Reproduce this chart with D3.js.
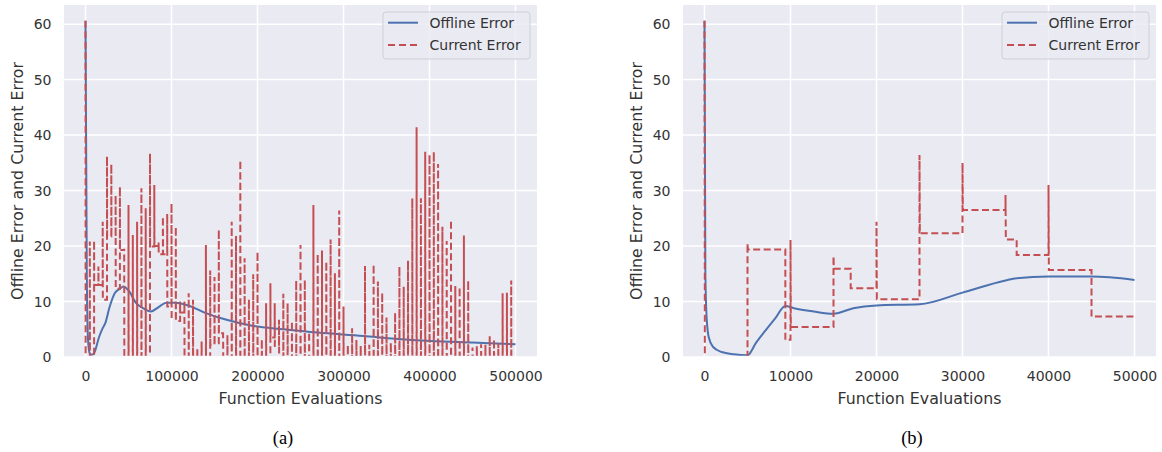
<!DOCTYPE html>
<html>
<head>
<meta charset="utf-8">
<script src="https://cdn.jsdelivr.net/npm/d3@7"></script>
<style>
  html, body { margin: 0; padding: 0; background: #fff; }
  svg { display: block; font-family: "DejaVu Sans", sans-serif; }
</style>
</head>
<body>
<div id="chart"></div>
<script>
// 数据 - 估计值

// (a) 每个环境的评估次数（100 个环境，共 500000 次）
const envLength = 5000;

// (a) Current Error：每个环境变化时的峰值
const peakA = [
  60.6, 20.8, 21.0, 16.3, 24.4, 36.2, 34.8, 29.2, 30.7, 19.5,
  27.4, 22.0, 24.4, 30.4, 26.8, 36.7, 31.0, 20.7, 25.3, 25.8,
  27.7, 23.5, 10.0, 10.0, 11.5, 10.3, 1.6, 2.8, 20.2, 15.6,
  14.4, 23.0, 4.0, 4.0, 24.4, 21.8, 35.5, 17.8, 10.4, 14.9,
  19.0, 3.2, 9.7, 13.3, 9.7, 6.7, 11.4, 9.7, 6.4, 13.8,
  20.2, 13.9, 4.5, 27.4, 18.6, 19.2, 17.2, 21.2, 15.1, 26.4,
  9.1, 2.2, 5.2, 3.1, 2.0, 16.4, 2.2, 16.7, 13.6, 11.6,
  7.1, 2.6, 8.0, 16.3, 12.7, 17.4, 28.6, 41.4, 28.6, 37.0,
  36.5, 37.0, 34.8, 23.5, 20.9, 24.7, 12.8, 12.6, 21.9, 13.8,
  1.7, 2.0, 2.3, 2.2, 3.8, 3.2, 2.5, 11.5, 11.6, 13.8
];

// (a) Current Error：每个环境结束时的值
const lowA = [
  0, 0, 13, 13, 10.3, 21.7, 22, 12.3, 19.3, 0,
  0, 0, 0, 0, 0, 19.9, 20, 18.5, 18.5, 9.1,
  7, 6.5, 8, 0, 0, 0, 0, 0, 0, 2.2,
  2.5, 4.3, 0, 0, 0, 0, 0, 0, 0, 0,
  0, 0, 0, 3.5, 2.0, 0, 0, 0, 0, 0,
  0, 0, 0, 0, 0, 0, 0, 0, 0, 0,
  0, 0, 0, 0, 0, 0, 0, 0, 0, 0,
  0, 0, 0, 0, 0, 0, 0, 0, 0, 0,
  0, 0, 0, 0, 0, 0, 0, 0, 0, 0,
  0, 0, 0, 0, 0, 0, 0, 0, 0, 0
];

// (a) Offline Error
const offlineA_x = [0, 1500, 3000, 5000, 7500, 10000, 16000, 20000, 23000, 28000,
  34000, 40000, 44000, 50000, 59000, 68000, 76000, 85000, 94000, 105000,
  121000, 140000, 164000, 195000, 230000, 270000, 323000, 360000, 401000, 450000, 500000];
const offlineA_y = [60.6, 15, 3, 0.6, 0.4, 0.7, 3.7, 5.2, 6.1, 9.0,
  11.5, 12.3, 12.7, 12.0, 9.7, 8.7, 8.2, 9.0, 9.8, 9.8,
  9.2, 7.9, 6.7, 5.6, 5.0, 4.4, 3.8, 3.3, 2.9, 2.6, 2.3];

// (b) Current Error（阶梯折线的顶点）
const currentB_x = [0, 40, 5000, 5000, 5040, 9400, 9400, 10000, 10000, 10040,
  15000, 15000, 15040, 17000, 17000, 20000, 20000, 20040, 25000, 25000,
  25040, 30000, 30000, 30040, 35000, 35000, 35040, 36300, 36300, 40000,
  40000, 40040, 45000, 45000, 50000];
const currentB_y = [60.6, 0, 0, 20.5, 19.4, 19.4, 3.1, 3.1, 21.1, 5.4,
  5.4, 18.2, 15.9, 15.9, 12.4, 12.4, 24.4, 10.4, 10.4, 36.4,
  22.3, 22.3, 35.0, 26.5, 26.5, 29.2, 21.2, 21.2, 18.4, 18.4,
  31.0, 15.7, 15.7, 7.3, 7.3];

// (b) Offline Error
const offlineB_x = [0, 100, 250, 500, 1000, 2000, 3400, 5000, 6000, 7000,
  8200, 9400, 10400, 12700, 15000, 17300, 20000, 25000, 30000, 35000,
  36300, 40000, 45000, 50000];
const offlineB_y = [60.6, 15, 7, 3.5, 1.8, 0.9, 0.5, 0.3, 2.6, 4.6,
  6.9, 9.2, 8.8, 8.2, 7.8, 8.8, 9.3, 9.5, 11.6, 13.8,
  14.2, 14.5, 14.5, 13.9];

// 刻度
const xTicksA = [0, 100000, 200000, 300000, 400000, 500000];
const xTicksB = [0, 10000, 20000, 30000, 40000, 50000];
const yTicks = [0, 10, 20, 30, 40, 50, 60];

const legendLabels = ["Offline Error", "Current Error"];
const captions = ["(a)", "(b)"];
const xLabel = "Function Evaluations";
const yLabel = "Offline Error and Current Error";

// 尺寸和样式
const width = 1162, height = 452;
const plotTop = 5, plotBottom = 357;
const yDomain = [0, 63.45];
const bgColor = "#EAEAF2";
const blue = "#4C72B0";
const red = "#C44E52";
const textColor = "#333";

// (a) 的 current error 折线：变化时刻先冲到峰值，再落到结束值
function buildCurrentA() {
  const pts = [];
  for (let k = 0; k < peakA.length; k++) {
    const x0 = k * envLength;
    if (k > 0) pts.push([x0, lowA[k - 1]]);
    pts.push([x0, peakA[k]]);
    pts.push([x0 + 150, lowA[k]]);
    pts.push([(k + 1) * envLength, lowA[k]]);
  }
  return pts;
}

const panels = [
  {
    left: 64, right: 537, domain: [-25000, 525000], ticks: xTicksA,
    offline: d3.zip(offlineA_x, offlineA_y),
    current: buildCurrentA(),
    caption: captions[0], captionX: 283
  },
  {
    left: 683, right: 1156, domain: [-2500, 52500], ticks: xTicksB,
    offline: d3.zip(offlineB_x, offlineB_y),
    current: d3.zip(currentB_x, currentB_y),
    caption: captions[1], captionX: 912
  }
];

const svg = d3.select("#chart")
  .append("svg")
  .attr("width", width)
  .attr("height", height);

panels.forEach((p, idx) => {
  const x = d3.scaleLinear().domain(p.domain).range([p.left, p.right]);
  const y = d3.scaleLinear().domain(yDomain).range([plotBottom, plotTop]);
  const g = svg.append("g");

  // 背景
  g.append("rect")
    .attr("x", p.left).attr("y", plotTop)
    .attr("width", p.right - p.left).attr("height", plotBottom - plotTop)
    .attr("fill", bgColor);

  // 裁剪区域（底边略收，贴着 0 的线不露出来）
  const clipId = "clip" + idx;
  svg.append("clipPath").attr("id", clipId)
    .append("rect")
    .attr("x", p.left).attr("y", plotTop)
    .attr("width", p.right - p.left).attr("height", plotBottom - plotTop - 1.2);

  // 网格线
  g.selectAll(".gx").data(p.ticks).join("line")
    .attr("x1", d => x(d)).attr("x2", d => x(d))
    .attr("y1", plotTop).attr("y2", plotBottom)
    .attr("stroke", "#fff").attr("stroke-width", 1.5);
  g.selectAll(".gy").data(yTicks).join("line")
    .attr("x1", p.left).attr("x2", p.right)
    .attr("y1", d => y(d)).attr("y2", d => y(d))
    .attr("stroke", "#fff").attr("stroke-width", 1.5);

  // 坐标轴
  const xAxis = g.append("g")
    .attr("transform", `translate(0,${plotBottom})`)
    .call(d3.axisBottom(x).tickValues(p.ticks).tickSize(0).tickPadding(14).tickFormat(d3.format("d")));
  const yAxis = g.append("g")
    .attr("transform", `translate(${p.left},0)`)
    .call(d3.axisLeft(y).tickValues(yTicks).tickSize(0).tickPadding(12.5).tickFormat(d3.format("d")));
  [xAxis, yAxis].forEach(a => {
    a.select(".domain").remove();
    a.selectAll("text")
      .attr("fill", textColor)
      .style("font-size", "14px")
      .style("font-family", "DejaVu Sans, sans-serif");
  });

  // 轴标题
  g.append("text")
    .attr("x", (p.left + p.right) / 2).attr("y", 404)
    .attr("text-anchor", "middle")
    .attr("fill", textColor)
    .style("font-size", "15.8px")
    .text(xLabel);
  g.append("text")
    .attr("transform", `translate(${p.left - 47},${(plotTop + plotBottom) / 2}) rotate(-90)`)
    .attr("text-anchor", "middle")
    .attr("dy", "0.35em")
    .attr("fill", textColor)
    .style("font-size", "15.8px")
    .text(yLabel);

  const line = d3.line().x(d => x(d[0])).y(d => y(d[1]));
  const plot = g.append("g").attr("clip-path", `url(#${clipId})`);

  // Offline Error（实线）
  plot.append("path")
    .datum(p.offline)
    .attr("d", line.curve(d3.curveMonotoneX))
    .attr("fill", "none")
    .attr("stroke", blue)
    .attr("stroke-width", 2);

  // Current Error（虚线）
  plot.append("path")
    .datum(p.current)
    .attr("d", line.curve(d3.curveLinear))
    .attr("fill", "none")
    .attr("stroke", red)
    .attr("stroke-width", 2)
    .attr("stroke-dasharray", "7,3.5");

  // 图例
  const lx = p.right - 7 - 147, ly = 12;
  const legend = g.append("g");
  legend.append("rect")
    .attr("x", lx).attr("y", ly)
    .attr("width", 147).attr("height", 47)
    .attr("rx", 3)
    .attr("fill", "rgba(234,234,242,0.8)")
    .attr("stroke", "#cfcfd6")
    .attr("stroke-width", 1);
  legendLabels.forEach((label, i) => {
    const cy = ly + 10.7 + i * 22.3;
    legend.append("line")
      .attr("x1", lx + 5).attr("x2", lx + 35)
      .attr("y1", cy).attr("y2", cy)
      .attr("stroke", i === 0 ? blue : red)
      .attr("stroke-width", 2)
      .attr("stroke-dasharray", i === 0 ? null : "7,4");
    legend.append("text")
      .attr("x", lx + 46.5).attr("y", cy)
      .attr("dy", "0.35em")
      .attr("fill", textColor)
      .style("font-size", "14px")
      .text(label);
  });

  // 子图标题
  svg.append("text")
    .attr("x", p.captionX).attr("y", 444)
    .attr("text-anchor", "middle")
    .attr("fill", "#000")
    .style("font-family", "Liberation Serif, serif")
    .style("font-size", "18.5px")
    .text(p.caption);
});
</script>
</body>
</html>
